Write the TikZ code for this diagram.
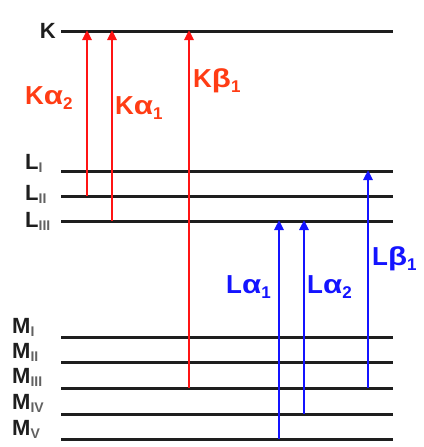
\documentclass[tikz,border=0pt]{standalone}
\usepackage{fontspec}
\setmainfont{Liberation Sans}
\usetikzlibrary{arrows.meta}
\definecolor{lvl}{RGB}{30,30,30}
\definecolor{kred}{RGB}{255,20,20}
\definecolor{ktext}{RGB}{255,60,20}
\definecolor{lblue}{RGB}{20,20,255}
\newcommand{\lvsub}[1]{\raisebox{-3pt}{\fontsize{14}{14}\selectfont\bfseries\color{lvl!70}#1}}
\newcommand{\emsub}[1]{\raisebox{-5pt}{\fontsize{17}{17}\selectfont #1}}
\newcommand{\wgr}[1]{\scalebox{1.2}[1]{#1}}
\begin{document}
\begin{tikzpicture}[x=1pt,y=-1pt,
  level/.style={draw=lvl,line width=3pt},
  lvlab/.style={anchor=base west,inner sep=0pt,font=\fontsize{22}{22}\selectfont\bfseries,text=lvl},
  redarr/.style={draw=kred,line width=2.8pt,-{Triangle[width=9pt,length=10pt]},shorten >=-1pt},
  bluearr/.style={draw=lblue,line width=2.8pt,-{Triangle[width=9pt,length=10pt]},shorten >=-1pt},
  redlab/.style={anchor=base west,inner sep=0pt,font=\fontsize{26}{26}\selectfont\bfseries,text=ktext},
  bluelab/.style={anchor=base west,inner sep=0pt,font=\fontsize{26}{26}\selectfont\bfseries,text=lblue}]
\useasboundingbox (0,0) rectangle (423,447);
% levels
\foreach \n/\y in {K/31,LI/171,LII/196,LIII/221,MI/337,MII/362,MIII/388,MIV/414,MV/439}{
  \coordinate (\n l) at (61,\y);
  \coordinate (\n r) at (393,\y);
  \draw[level] (\n l) -- (\n r);
}
% level labels
\node[anchor=base east,inner sep=0pt,font=\fontsize{22}{22}\selectfont\bfseries,text=lvl] (lK) at (56,38) {K};
\node[lvlab] (lLI) at (25,169) {L\lvsub{I}};
\node[lvlab] (lLII) at (25,200) {L\lvsub{II}};
\node[lvlab] (lLIII) at (25,227) {L\lvsub{III}};
\node[lvlab] (lMI) at (12,333) {M\lvsub{I}};
\node[lvlab] (lMII) at (12,358) {M\lvsub{II}};
\node[lvlab] (lMIII) at (12,383) {M\lvsub{III}};
\node[lvlab] (lMIV) at (12,409) {M\lvsub{IV}};
\node[lvlab] (lMV) at (12,435) {M\lvsub{V}};
% arrow endpoints
\coordinate (ka2s) at (87,196);  \coordinate (ka2e) at (87,31);
\coordinate (ka1s) at (112,221); \coordinate (ka1e) at (112,31);
\coordinate (kb1s) at (189,388); \coordinate (kb1e) at (189,31);
\coordinate (la1s) at (279,439); \coordinate (la1e) at (279,221);
\coordinate (la2s) at (304,414); \coordinate (la2e) at (304,221);
\coordinate (lb1s) at (368,388); \coordinate (lb1e) at (368,171);
\draw[redarr] (ka2s) -- (ka2e);
\draw[redarr] (ka1s) -- (ka1e);
\draw[redarr] (kb1s) -- (kb1e);
\draw[bluearr] (la1s) -- (la1e);
\draw[bluearr] (la2s) -- (la2e);
\draw[bluearr] (lb1s) -- (lb1e);
% emission labels
\node[redlab] (tka2) at (25,104) {K\wgr{α}\emsub{2}};
\node[redlab] (tka1) at (115,114) {K\wgr{α}\emsub{1}};
\node[redlab] (tkb1) at (193,87) {K\wgr{β}\emsub{1}};
\node[bluelab] (tla1) at (226,293) {L\wgr{α}\emsub{1}};
\node[bluelab] (tla2) at (307,293) {L\wgr{α}\emsub{2}};
\node[bluelab] (tlb1) at (372,265) {L\wgr{β}\emsub{1}};
\end{tikzpicture}
\end{document}
